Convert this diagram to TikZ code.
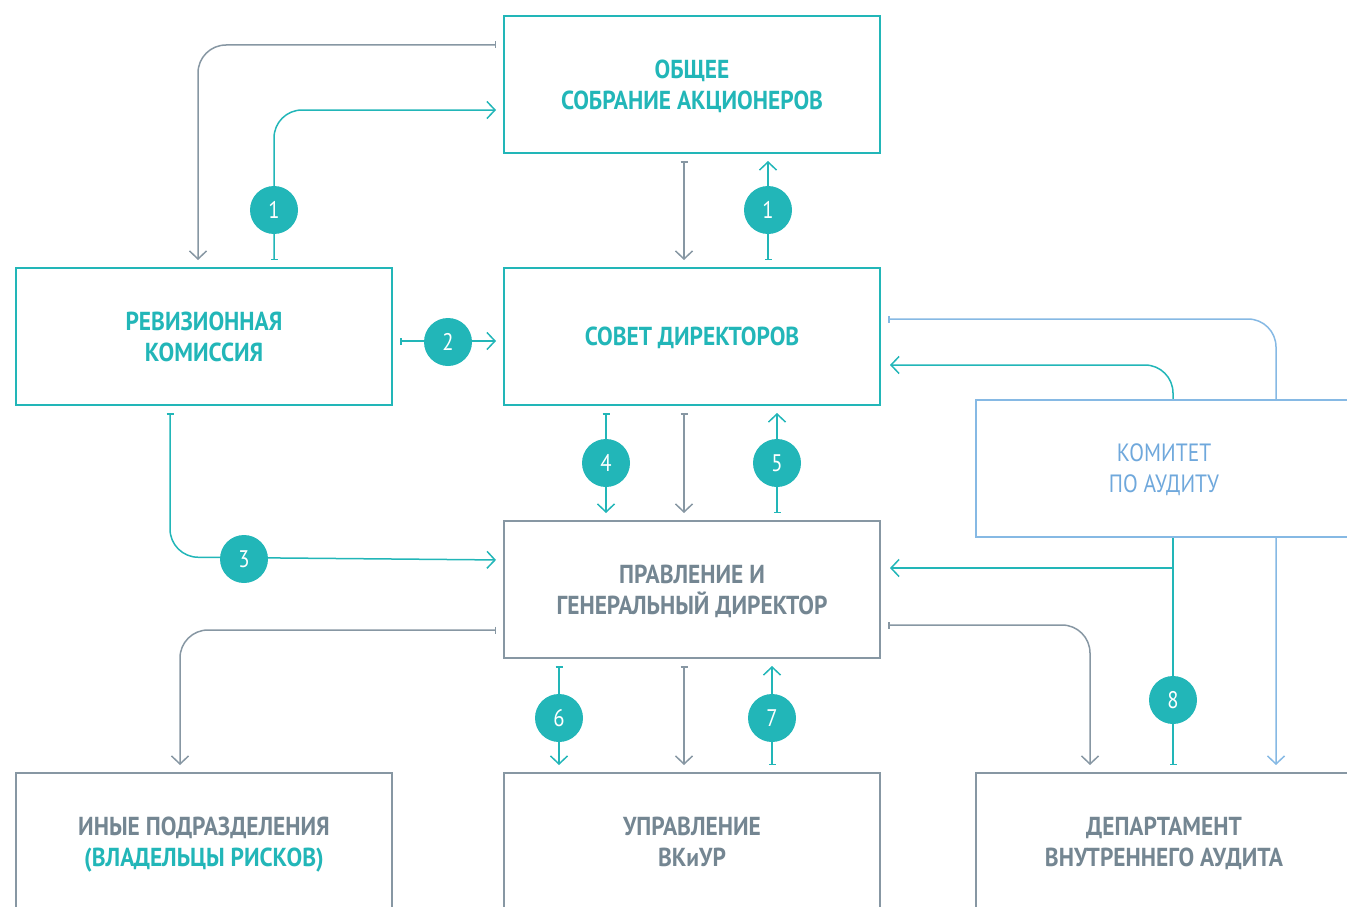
\documentclass[tikz,border=0pt]{standalone}
\usepackage{fontspec}
\setmainfont{PT Sans}[FakeStretch=0.86]
\newfontfamily\boxfont{PT Sans}[FakeStretch=0.9]
\usetikzlibrary{arrows.meta,backgrounds}
\definecolor{cTeal}{HTML}{22B6B8}
\definecolor{cGray}{HTML}{8797A3}
\definecolor{cGrayText}{HTML}{748692}
\definecolor{cBlue}{HTML}{86B9E4}
\definecolor{cBlueText}{HTML}{6FA8DC}
\tikzset{
  box/.style={draw, line width=2pt, fill=white, minimum width=376pt, minimum height=137pt,
    inner sep=0pt, align=center, text depth=0pt, font=\boxfont\bfseries\fontsize{26}{31}\selectfont},
  tealbox/.style={box, draw=cTeal, text=cTeal},
  graybox/.style={box, draw=cGray, text=cGrayText},
  bluebox/.style={box, draw=cBlue, text=cBlueText, font=\fontsize{25}{31}\selectfont},
  num/.style={circle, fill=cTeal, text=white, minimum size=48pt, inner sep=0pt,
    font=\fontsize{24}{24}\selectfont},
  conn/.style={line width=1.5pt, rounded corners=28pt, shorten <=7pt, shorten >=7pt,
    {Bar[width=7pt,line width=1.5pt]}-{Straight Barb[length=8pt,width=17pt,line width=1.5pt]}},
  connplain/.style={line width=1.5pt, rounded corners=28pt, shorten >=9pt,
    -{Straight Barb[length=8pt,width=17pt,line width=1.5pt]}},
  connbar/.style={line width=1.5pt, shorten >=7pt, -{Bar[width=7pt,line width=1.5pt]}},
  tealline/.style={conn, draw=cTeal},
  grayline/.style={conn, draw=cGray},
  blueline/.style={conn, draw=cBlue},
}
\begin{document}
\begin{tikzpicture}[x=1pt,y=-1pt]
\useasboundingbox (0,0) rectangle (1347,907);
\clip (0,0) rectangle (1347,907);
% boxes
\node[tealbox] (gms) at (692,84.5) {ОБЩЕЕ\\СОБРАНИЕ АКЦИОНЕРОВ};
\node[tealbox] (rev) at (204,336.5) {РЕВИЗИОННАЯ\\КОМИССИЯ};
\node[tealbox] (sov) at (692,336.5) {СОВЕТ ДИРЕКТОРОВ};
\node[bluebox] (kom) at (1164,468.5) {КОМИТЕТ\\ПО АУДИТУ};
\node[graybox] (prav) at (692,589.5) {ПРАВЛЕНИЕ И\\ГЕНЕРАЛЬНЫЙ ДИРЕКТОР};
\node[graybox] (iny) at (204,841.5) {ИНЫЕ ПОДРАЗДЕЛЕНИЯ\\\textcolor{cTeal}{(ВЛАДЕЛЬЦЫ РИСКОВ)}};
\node[graybox] (upr) at (692,841.5) {УПРАВЛЕНИЕ\\ВКиУР};
\node[graybox] (dep) at (1164,841.5) {ДЕПАРТАМЕНТ\\ВНУТРЕННЕГО АУДИТА};
% number circles
\node[num] (n1a) at (274,210) {1};
\node[num] (n1b) at (768,210) {1};
\node[num] (n2) at (448,342) {2};
\node[num] (n3) at (244,559) {3};
\node[num] (n4) at (606,463) {4};
\node[num] (n5) at (777,463) {5};
\node[num] (n6) at (559,718) {6};
\node[num] (n7) at (772,718) {7};
\node[num] (n8) at (1173,700) {8};
\begin{scope}[on background layer]
% top
\draw[grayline] (gms.west |- 0,45) -- (198,45) -- (rev.north -| 198,0);
\draw[tealline] (rev.north -| 274,0) -- (274,110) -- (gms.west |- 0,110);
\draw[grayline] (gms.south -| 684,0) -- (sov.north -| 684,0);
\draw[tealline] (sov.north -| 768,0) -- (gms.south -| 768,0);
% middle
\draw[tealline] (rev.east |- 0,341) -- (sov.west |- 0,341);
\draw[tealline] (rev.south -| 170,0) -- (170,557) -- (prav.west |- 0,560);
\draw[tealline] (sov.south -| 606,0) -- (prav.north -| 606,0);
\draw[grayline] (sov.south -| 684,0) -- (prav.north -| 684,0);
\draw[tealline] (prav.north -| 777,0) -- (sov.south -| 777,0);
% audit committee
\draw[blueline] (sov.east |- 0,319) -- (1276,319) -- (dep.north -| 1276,0);
\draw[connplain, draw=cTeal] (kom.north -| 1173,0) -- (1173,365) -- (sov.east |- 0,365);
\draw[connplain, draw=cTeal, rounded corners=0pt] (kom.south -| 1173,0) -- (1173,568) -- (prav.east |- 0,568);
\draw[connbar, draw=cTeal] (kom.south -| 1173,0) -- (dep.north -| 1173,0);
% bottom
\draw[grayline] (prav.east |- 0,625) -- (1090,625) -- (dep.north -| 1090,0);
\draw[grayline] (prav.west |- 0,630) -- (180,630) -- (iny.north -| 180,0);
\draw[tealline] (prav.south -| 559,0) -- (upr.north -| 559,0);
\draw[grayline] (prav.south -| 684,0) -- (upr.north -| 684,0);
\draw[tealline] (upr.north -| 772,0) -- (prav.south -| 772,0);
\end{scope}
\end{tikzpicture}
\end{document}
